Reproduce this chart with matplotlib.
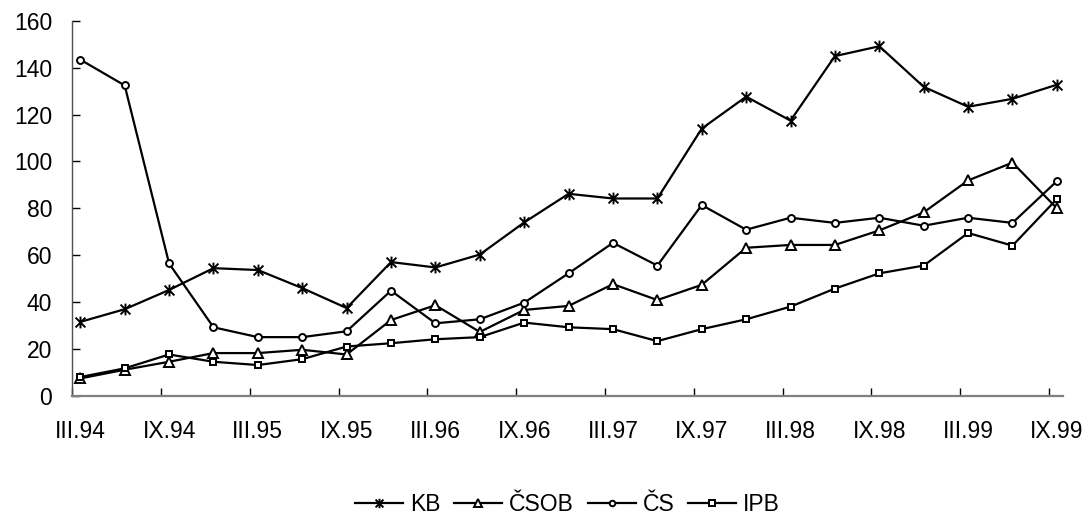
import numpy as np
import matplotlib.pyplot as plt
from matplotlib.path import Path

plt.rcParams['font.family'] = ['Liberation Sans', 'DejaVu Sans']

# quarterly periods III.94 .. IX.99
periods = ['III.94', 'VI.94', 'IX.94', 'XII.94', 'III.95', 'VI.95', 'IX.95', 'XII.95',
           'III.96', 'VI.96', 'IX.96', 'XII.96', 'III.97', 'VI.97', 'IX.97', 'XII.97',
           'III.98', 'VI.98', 'IX.98', 'XII.98', 'III.99', 'VI.99', 'IX.99']

kb = [31.6, 37.0, 45.2, 54.5, 53.7, 46.0, 37.5, 57.1, 54.8, 60.3, 74.0, 86.2,
      84.2, 84.2, 114.0, 127.6, 117.4, 144.9, 149.1, 131.8, 123.3, 126.7, 132.7]
csob = [7.5, 11.2, 14.6, 18.3, 18.3, 19.7, 17.7, 32.4, 38.7, 27.3, 36.7, 38.4,
        47.7, 40.9, 47.4, 63.2, 64.4, 64.4, 70.6, 78.3, 91.9, 99.5, 80.0]
cs = [143.4, 132.4, 56.5, 29.3, 25.1, 25.1, 27.6, 44.9, 31.0, 32.7, 39.8, 52.3,
      65.3, 55.6, 81.4, 70.9, 76.0, 73.8, 76.0, 72.6, 76.0, 73.8, 91.6]
ipb = [8.1, 11.8, 17.7, 14.6, 13.2, 15.7, 21.1, 22.5, 24.2, 25.1, 31.3, 29.3,
       28.5, 23.4, 28.5, 32.7, 38.1, 45.8, 52.3, 55.6, 69.5, 64.1, 84.0]

series = ['KB', 'ČSOB', 'ČS', 'IPB']

# Excel-like star: X plus vertical bar
star = Path([(-1, -1), (1, 1), (-1, 1), (1, -1), (0, -1.2), (0, 1.2)],
            [Path.MOVETO, Path.LINETO, Path.MOVETO, Path.LINETO, Path.MOVETO, Path.LINETO])

x = np.arange(len(periods))

fig = plt.figure(figsize=(10.89, 5.21), dpi=100)
ax = fig.add_axes([0.0664, 0.2399, 0.9094, 0.7204])

style = dict(color='black', lw=1.6, mfc='white', mec='black', mew=1.4)
ax.plot(x, kb, marker=star, ms=8.5, label=series[0], **style)
ax.plot(x, csob, marker='^', ms=7, label=series[1], **style)
ax.plot(x, cs, marker='o', ms=5, label=series[2], **style)
ax.plot(x, ipb, marker='s', ms=5, label=series[3], **style)

ax.set_ylim(0, 160)
ax.set_yticks(range(0, 161, 20))
ax.set_xlim(-0.18, 22.13)
ax.set_xticks(x[::2])
ax.set_xticklabels(periods[::2])
ax.set_xticks(x[::2] - 0.18, minor=True)
ax.tick_params(axis='x', which='major', length=0, pad=17, labelsize=16.5)
ax.tick_params(axis='x', which='minor', direction='in', length=5.5, width=1, color='black')
ax.tick_params(axis='y', direction='in', length=6, width=1, pad=14.5, labelsize=16.5)

for s in ['top', 'right']:
    ax.spines[s].set_visible(False)
ax.spines['bottom'].set_color('#808080')
ax.spines['bottom'].set_linewidth(1.6)
ax.spines['left'].set_color('#505050')
ax.spines['left'].set_linewidth(1)

fig.legend(loc='center', bbox_to_anchor=(0.521, 0.031), ncol=4, frameon=False,
           fontsize=16.5, handlelength=2.1, handletextpad=0.3, columnspacing=0.6,
           markerscale=0.8)

fig.savefig('out.png', dpi=100)
